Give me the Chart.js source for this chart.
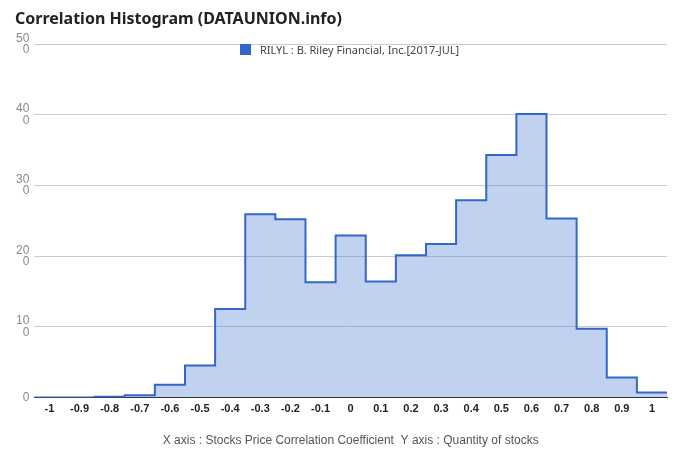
<!DOCTYPE html>
<html lang="en">
  <head>
    <meta charset="UTF-8" />
    <title>Correlation Histogram</title>
    <script src="https://cdn.jsdelivr.net/npm/chart.js"></script>
    <style>
      body {
        margin: 0;
        background: #fff;
        font-family: "Noto Sans", "DejaVu Sans", sans-serif;
      }
      #wrap {
        position: relative;
        width: 680px;
        height: 462px;
      }
      #title {
        position: absolute;
        left: 15px;
        top: 7px;
        font-size: 16px;
        font-weight: bold;
        color: #222;
      }
      #legend {
        position: absolute;
        left: 240px;
        top: 42px;
        font-size: 11px;
        color: #444;
        display: flex;
        align-items: center;
      }
      #legend span.box {
        width: 11px;
        height: 11px;
        background: #3366cc;
        margin-right: 9px;
        display: inline-block;
      }
    </style>
  </head>
  <body>
    <div id="wrap">
      <canvas id="histChart" width="680" height="462"></canvas>
      <div id="title">Correlation Histogram (DATAUNION.info)</div>
      <div id="legend"><span class="box"></span><span id="legendText"></span></div>
    </div>

    <script>
      // 相関係数のビン（中心値）
      const binCenters = [-1, -0.9, -0.8, -0.7, -0.6, -0.5, -0.4, -0.3, -0.2, -0.1, 0,
        0.1, 0.2, 0.3, 0.4, 0.5, 0.6, 0.7, 0.8, 0.9, 1];
      // 銘柄数
      const stockCounts = [0, 0, 1, 3, 18, 45, 125, 259, 252, 163, 229,
        164, 201, 217, 279, 343, 401, 253, 97, 28, 7];
      const seriesLabel = "RILYL : B. Riley Financial, Inc.[2017-JUL]";
      const axisTitle = "X axis : Stocks Price Correlation Coefficient  Y axis : Quantity of stocks";
      const binWidth = 0.1;

      document.getElementById("legendText").innerText = seriesLabel;

      // 階段状の線にするためビンの左端で点を作る
      const stepPoints = binCenters.map((c, i) => ({ x: c - binWidth / 2, y: stockCounts[i] }));
      stepPoints.push({
        x: binCenters[binCenters.length - 1] + binWidth / 2,
        y: stockCounts[stockCounts.length - 1],
      });

      new Chart(document.getElementById("histChart"), {
        type: "line",
        data: {
          datasets: [
            {
              label: seriesLabel,
              data: stepPoints,
              stepped: "before",
              borderColor: "#3366cc",
              backgroundColor: "rgba(51,102,204,0.3)",
              borderWidth: 2,
              pointRadius: 0,
              fill: "origin",
            },
          ],
        },
        options: {
          responsive: false,
          animation: false,
          layout: { padding: { top: 44, right: 13, left: 11, bottom: 10 } },
          plugins: {
            legend: { display: false },
            tooltip: { enabled: false },
          },
          scales: {
            x: {
              type: "linear",
              min: -1.05,
              max: 1.05,
              afterBuildTicks: (axis) => {
                axis.ticks = binCenters.map((v) => ({ value: v }));
              },
              ticks: {
                autoSkip: false,
                maxRotation: 0,
                padding: 5,
                color: "#222",
                font: { size: 11, weight: "bold" },
                callback: (v) => String(Math.round(v * 10) / 10),
              },
              grid: { display: false, drawTicks: false },
              border: { color: "#333", width: 1 },
              title: {
                display: true,
                text: axisTitle,
                color: "#555",
                font: { size: 12 },
                padding: { top: 13 },
              },
            },
            y: {
              min: 0,
              max: 500,
              ticks: {
                stepSize: 100,
                color: "#888",
                font: { size: 12, lineHeight: 0.95 },
                padding: 5,
                callback: (v) => {
                  const s = String(v);
                  return s.length > 1 ? [s.slice(0, s.length - 1), s.slice(-1)] : s;
                },
              },
              grid: { color: "#ccc", drawTicks: false },
              border: { display: false },
            },
          },
        },
      });
    </script>
  </body>
</html>
